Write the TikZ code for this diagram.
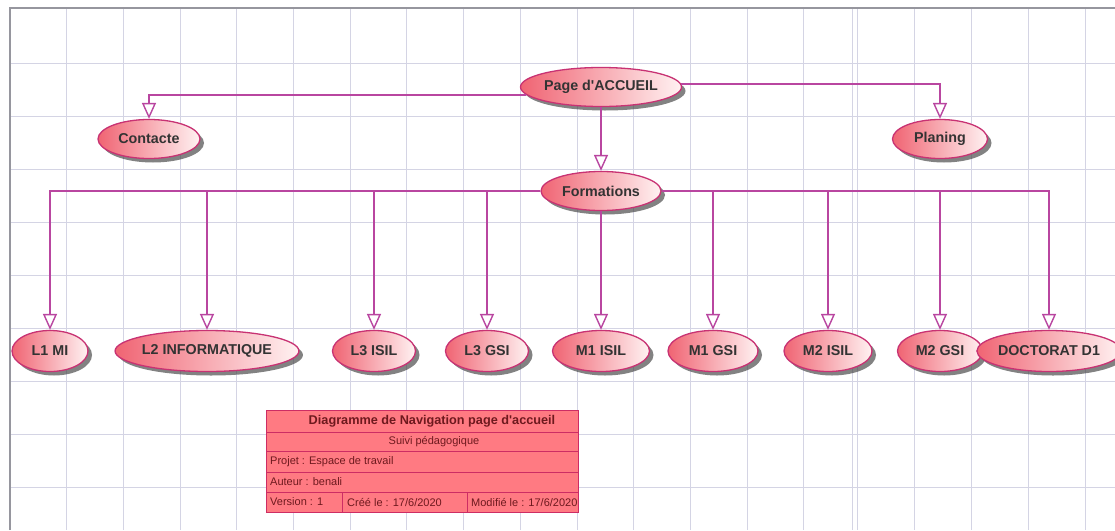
\documentclass[tikz,border=0pt]{standalone}
\usepackage{fontspec}
\setmainfont{Liberation Sans}[Ligatures=TeXOff]
\usetikzlibrary{arrows.meta,shapes.geometric,shadows}
\definecolor{navline}{RGB}{185,70,160}
\definecolor{ovalrim}{RGB}{200,50,115}
\definecolor{ovalleft}{RGB}{240,100,115}
\definecolor{ovalright}{RGB}{255,242,242}
\definecolor{gridc}{RGB}{212,212,228}
\definecolor{framec}{RGB}{150,150,158}
\definecolor{cartfill}{RGB}{255,122,130}
\definecolor{cartrim}{RGB}{205,45,100}
\definecolor{carttext}{RGB}{110,25,30}
\begin{document}
\begin{tikzpicture}[x=1pt,y=-1pt,
  screen/.style={ellipse, draw=ovalrim, line width=1.3pt,
    left color=ovalleft, right color=ovalright,
    inner sep=0pt, minimum height=39pt, text=black!80,
    font=\bfseries\fontsize{14.3}{16}\selectfont,
    drop shadow={shadow xshift=4pt, shadow yshift=-4pt, fill=black!75, opacity=0.65}},
  nav/.style={draw=navline, line width=1.4pt,
    -{Triangle[width=14pt,length=16pt,fill=white]}},
  gridline/.style={draw=gridc, line width=0.9pt},
  cell/.style={draw=cartrim, fill=cartfill, line width=1pt},
  celltext/.style={text=carttext, inner sep=0pt, font=\fontsize{11}{13}\selectfont}
]
\useasboundingbox (0,0) rectangle (1115,530);
\fill[white] (0,0) rectangle (1115,530);

% sheet grid
\foreach \x in {66.7,123.4,180.1,236.8,293.5,350.2,406.9,463.6,520.3,577,633.7,690.4,747.1,803.8,852,857,914,971,1028,1085}
  \draw[gridline] (\x,8) -- (\x,530);
\foreach \y in {63,116,169,222,275,328,381,434,487}
  \draw[gridline] (10,\y) -- (1115,\y);
\draw[framec, line width=1.8pt] (10,530) -- (10,8) -- (1115,8);

% pages
\node[screen, minimum width=157pt] (acc) at (601,87) {Page d'ACCUEIL};
\node[screen, minimum width=102pt] (contact) at (149,139) {Contacte};
\node[screen, minimum width=95pt] (plan) at (940,139) {Planing};
\node[screen, minimum width=120pt] (form) at (601,191) {Formations};

\node[screen, minimum width=76pt, minimum height=41pt] (l1mi) at (50,351) {L1 MI};
\node[screen, minimum width=175pt, minimum height=41pt] (l2info) at (207,351) {L2 INFORMATIQUE};
\node[screen, minimum width=83pt, minimum height=41pt] (l3isil) at (374,351) {L3 ISIL};
\node[screen, minimum width=83pt, minimum height=41pt] (l3gsi) at (487,351) {L3 GSI};
\node[screen, minimum width=97pt, minimum height=41pt] (m1isil) at (601,351) {M1 ISIL};
\node[screen, minimum width=90pt, minimum height=41pt] (m1gsi) at (713,351) {M1 GSI};
\node[screen, minimum width=88pt, minimum height=41pt] (m2isil) at (828,351) {M2 ISIL};
\node[screen, minimum width=85pt, minimum height=41pt] (m2gsi) at (940,351) {M2 GSI};
\node[screen, minimum width=130pt, minimum height=41pt] (doct) at (1049,351) {DOCTORAT D1};

% navigation links
\draw[nav] (acc.186) -| (contact);
\draw[nav] (acc.2) -| (plan);
\draw[nav] (acc) -- (form);
\draw[nav] (form.west) -| (l1mi);
\draw[nav] (form.west) -| (l2info);
\draw[nav] (form.west) -| (l3isil);
\draw[nav] (form.west) -| (l3gsi);
\draw[nav] (form) -- (m1isil);
\draw[nav] (form.east) -| (m1gsi);
\draw[nav] (form.east) -| (m2isil);
\draw[nav] (form.east) -| (m2gsi);
\draw[nav] (form.east) -| (doct);

% title block
\draw[cell] (266,410) rectangle (578,512);
\draw[draw=cartrim, line width=1pt] (266,432) -- (578,432)
  (266,451) -- (578,451) (266,472) -- (578,472) (266,492) -- (578,492)
  (342,492) -- (342,512) (467,492) -- (467,512);
\node[celltext, font=\bfseries\fontsize{12.7}{14}\selectfont] (ttl) at (432,421.5) {Diagramme de Navigation page d'accueil};
\node[celltext] (suivi) at (434,441.5) {Suivi pédagogique};
\node[celltext, anchor=west] (proj) at (270,461.5) {Projet : Espace de travail};
\node[celltext, anchor=west] (aut) at (270,482) {Auteur : benali};
\node[celltext, anchor=west] (ver) at (270,502) {Version : 1};
\node[celltext, anchor=west] (cree) at (347,502) {Créé le : 17/6/2020};
\node[celltext, anchor=west] (modif) at (471,502) {Modifié le : 17/6/2020};
\end{tikzpicture}
\end{document}
